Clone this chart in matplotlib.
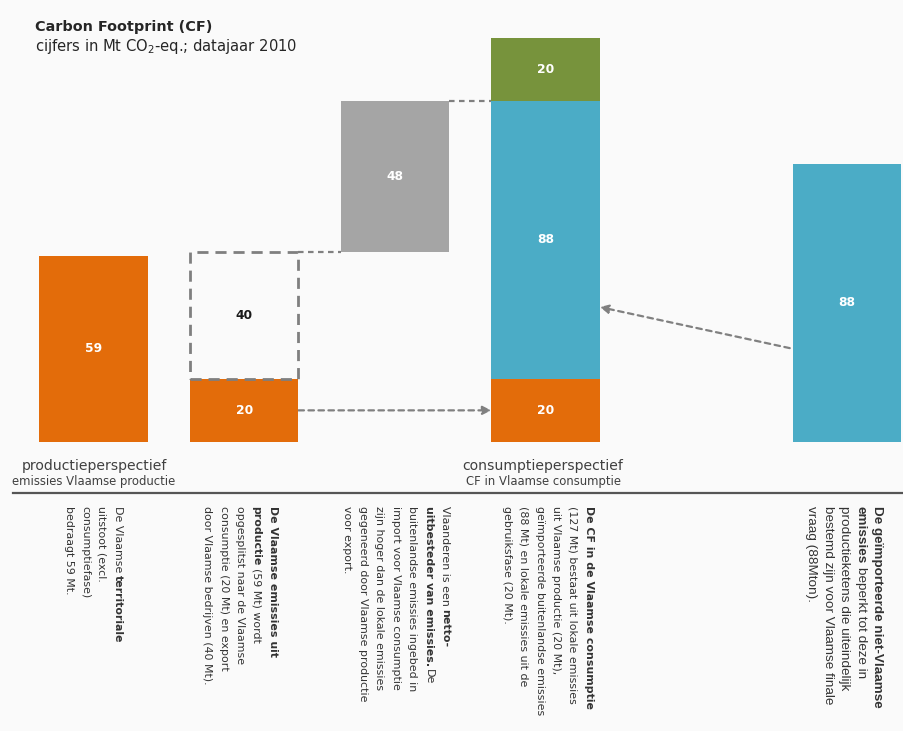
import numpy as np
import matplotlib
matplotlib.use("Agg")
import matplotlib.pyplot as plt
from matplotlib.patches import Rectangle
from matplotlib.lines import Line2D

plt.rcParams['font.family'] = ['DejaVu Sans']

# ---- data (Mt CO2-eq., 2010) ----
positions = [0, 1, 2, 3, 3, 3, 5]
seg_values = [59, 20, 48, 20, 88, 20, 88]
seg_bottoms = [0, 0, 60, 0, 20, 108, 0]
seg_colors = ['#e36c0a', '#e36c0a', '#a5a5a5', '#e36c0a', '#4bacc6', '#77933c', '#4bacc6']
seg_labels = ['59', '20', '48', '20', '88', '20', '88']

export_value = 40          # dashed box on top of the local part
export_bottom = 20

cat_titles = ['productieperspectief', 'consumptieperspectief']
cat_subtitles = ['emissies Vlaamse productie', 'CF in Vlaamse consumptie']

# rotated notes: each line is a list of (text, bold) parts
notes = [
    [[('De Vlaamse', False), ('territoriale', True)],
     [('uitstoot (excl.', False)],
     [('consumptiefase)', False)],
     [('bedraagt 59 Mt.', False)]],
    [[('De Vlaamse emissies uit', True)],
     [('productie', True), ('(59 Mt) wordt', False)],
     [('opgesplitst naar de Vlaamse', False)],
     [('consumptie (20 Mt) en export', False)],
     [('door Vlaamse bedrijven (40 Mt).', False)]],
    [[('Vlaanderen is een', False), ('netto-', True)],
     [('uitbesteder van emissies.', True), ('De', False)],
     [('buitenlandse emissies ingebed in', False)],
     [('import voor Vlaamse consumptie', False)],
     [('zijn hoger dan de lokale emissies', False)],
     [('gegeneerd door Vlaamse productie', False)],
     [('voor export.', False)]],
    [[('De CF in de Vlaamse consumptie', True)],
     [('(127 Mt) bestaat uit lokale emissies', False)],
     [('uit Vlaamse productie (20 Mt),', False)],
     [('geïmporteerde buitenlandse emissies', False)],
     [('(88 Mt) en lokale emissies uit de', False)],
     [('gebruiksfase (20 Mt).', False)]],
    [[('De geïmporteerde niet-Vlaamse', True)],
     [('emissies', True), ('beperkt tot deze in', False)],
     [('productieketens die uiteindelijk', False)],
     [('bestemd zijn voor Vlaamse finale', False)],
     [('vraag (88Mton).', False)]],
]
note_first_x = [118, 273, 445, 589, 877]   # pixel x of first line
note_fonts = [('DejaVu Sans', 7.9)] * 4 + [('Liberation Sans', 9.7)]

W, H = 904, 731
BG = '#fafafa'
width = 0.72

fig = plt.figure(figsize=(W / 100, H / 100), dpi=100, facecolor=BG)
ax = fig.add_axes([0, 0, 1, 1])
ax.set_facecolor(BG)
ax.set_xlim(-0.620, 5.378)
ax.set_ylim(-91.5, 139.9)
ax.axis('off')


def fx(px):
    return px / W


def fy(py):
    return 1 - py / H


# bars
ax.bar(positions, seg_values, width=width, bottom=seg_bottoms, color=seg_colors,
       edgecolor='none', zorder=2)
for x, b, v, lab in zip(positions, seg_bottoms, seg_values, seg_labels):
    ax.text(x, b + v / 2, lab, ha='center', va='center', color='white',
            fontsize=8.8, fontweight='bold', zorder=4)

# dashed export box
box = Rectangle((1 - width / 2, export_bottom), width, export_value, fill=False,
                edgecolor='#7f7f7f', lw=2.0, linestyle=(0, (4, 2.5)), zorder=3)
ax.add_patch(box)
ax.text(1, export_bottom + export_value / 2, str(export_value), ha='center',
        va='center', color='#1a1a1a', fontsize=8.8, fontweight='bold', zorder=4)

# connectors
conn = dict(color='#808080', lw=1.6, linestyle=(0, (2.5, 2)), zorder=1)
top_box = export_bottom + export_value
ax.plot([1 + width / 2, 2 - width / 2], [top_box, top_box], **conn)
top_grey = top_box + seg_values[2]
ax.plot([2 + width / 2, 3 - width / 2], [top_grey, top_grey], **conn)

arrow = dict(arrowstyle='-|>,head_length=0.5,head_width=0.25', color='#808080',
             lw=1.6, linestyle=(0, (2.5, 2)), shrinkA=0, shrinkB=0)
ax.annotate('', xy=(3 - width / 2, seg_values[1] / 2),
            xytext=(1 + width / 2, seg_values[1] / 2), arrowprops=arrow, zorder=1)
ax.annotate('', xy=(3 + width / 2, 42.7), xytext=(5 - width / 2 - 0.02, 29.7),
            arrowprops=arrow, zorder=1)

# titles
fig.text(fx(35), fy(27), 'Carbon Footprint (CF)', fontsize=10.4, fontweight='bold',
         color='#262626', va='center', ha='left')
fig.text(fx(35), fy(47), 'cijfers in Mt CO$_\\mathregular{2}$-eq.; datajaar 2010',
         fontsize=10.6, color='#262626', va='center', ha='left')

# category labels
for cx, t, s in zip([94, 543], cat_titles, cat_subtitles):
    fig.text(fx(cx), fy(466), t, fontsize=10.1, color='#404040', ha='center', va='center')
    fig.text(fx(cx), fy(482), s, fontsize=8.4, color='#404040', ha='center', va='center')

# separator
fig.add_artist(Line2D([fx(13), 1], [fy(493), fy(493)], transform=fig.transFigure,
                      color='#555555', lw=1.6))

# rotated notes
line_gap = 16.4
top_px = 506
for x0, block, (fam, fs) in zip(note_first_x, notes, note_fonts):
    for i, line in enumerate(block):
        xp = x0 - i * line_gap
        prev = None
        for txt, bold in line:
            kw = dict(rotation=-90, ha='center', va='top', fontsize=fs, family=fam,
                      color='#333333', fontweight='bold' if bold else 'normal')
            if prev is None:
                prev = fig.text(fx(xp), fy(top_px), txt, **kw)
            else:
                prev = ax.annotate(txt, xy=(0.5, 0), xycoords=prev,
                                   xytext=(0, -0.28 * fs), textcoords='offset points', **kw)

fig.savefig('out.png', dpi=100, facecolor=BG)
